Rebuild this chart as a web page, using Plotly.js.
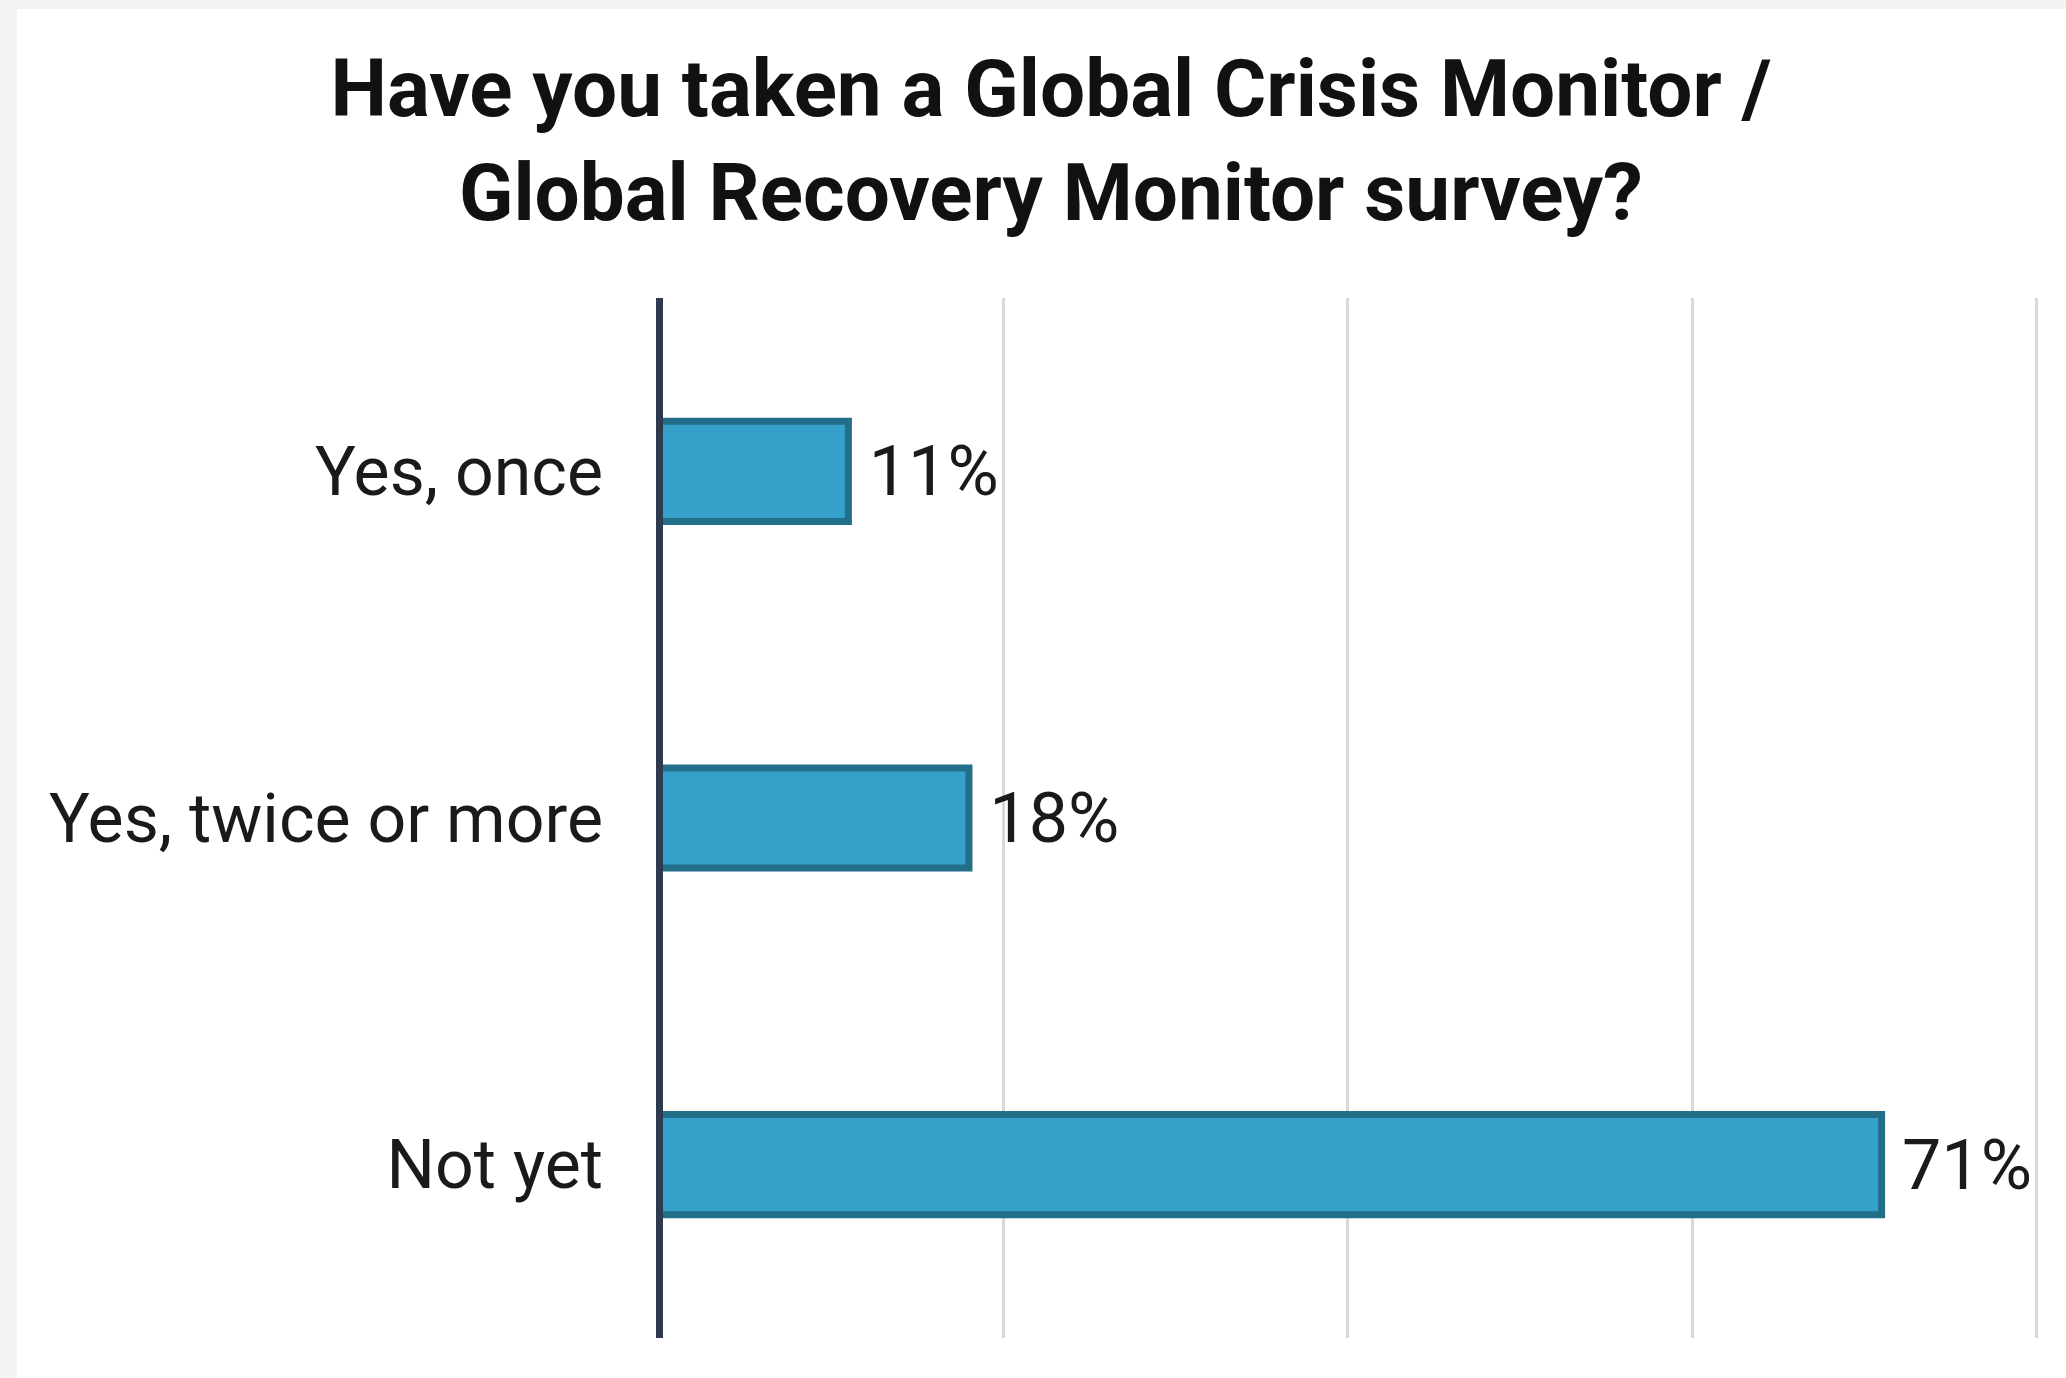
<!DOCTYPE html>
<html>
<head>
<meta charset="utf-8">
<script src="https://cdn.plot.ly/plotly-3.0.1.min.js"></script>
<style>
  html, body { margin: 0; padding: 0; background: #f3f3f3; width: 2066px; height: 1378px; overflow: hidden; }
  #chart { position: absolute; left: 17px; top: 9px; width: 2049px; height: 1369px; background: #ffffff; }
</style>
</head>
<body>
<div id="chart"></div>
<script>
// ---- data ----
const categories = ["Yes, once", "Yes, twice or more", "Not yet"];
const shares = [11, 18, 71];
const titleLines = ["Have you taken a Global Crisis Monitor /", "Global Recovery Monitor survey?"];
const gridTicks = [0, 20, 40, 60, 80];

const trace = {
  type: "bar",
  orientation: "h",
  y: categories,
  x: shares,
  marker: { color: "#35a0c9", line: { color: "#236f89", width: 7 } },
  texttemplate: "\u00a0%{x}%",
  textposition: "outside",
  constraintext: "none",
  cliponaxis: false,
  textfont: { family: "Roboto, sans-serif", size: 70, color: "#1a1a1a" },
  hoverinfo: "skip"
};

const layout = {
  width: 2049,
  height: 1369,
  paper_bgcolor: "#ffffff",
  plot_bgcolor: "#ffffff",
  margin: { l: 642, r: 26, t: 289, b: 40, pad: 0 },
  showlegend: false,
  bargap: 0.711,
  title: {
    text: titleLines.join("<br>"),
    font: { family: "Roboto, sans-serif", size: 80, color: "#111111", weight: 700 },
    x: 0.5046, xref: "container", xanchor: "center",
    y: 0.922, yref: "container", yanchor: "top"
  },
  xaxis: {
    range: [0, 80.2],
    tickvals: gridTicks,
    showticklabels: false,
    ticks: "",
    showgrid: true,
    gridcolor: "#d9d9d9",
    gridwidth: 3,
    zeroline: true,
    zerolinecolor: "#2e3b4e",
    zerolinewidth: 7,
    zerolinelayer: "above traces",
    showline: false,
    fixedrange: true
  },
  yaxis: {
    type: "category",
    categoryorder: "array",
    categoryarray: categories,
    range: [2.5, -0.5],
    showgrid: false,
    zeroline: false,
    showline: false,
    ticks: "",
    ticklabelstandoff: 55,
    tickfont: { family: "Roboto, sans-serif", size: 68, color: "#1a1a1a" },
    fixedrange: true
  }
};

Plotly.newPlot("chart", [trace], layout, { displayModeBar: false, staticPlot: true });
</script>
</body>
</html>
